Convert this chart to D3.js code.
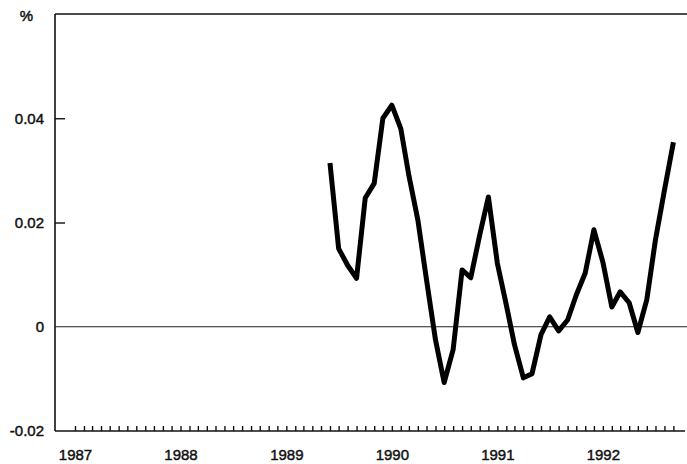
<!DOCTYPE html>
<html>
<head>
<meta charset="utf-8">
<script src="https://cdn.jsdelivr.net/npm/d3@7"></script>
<style>
  body { margin: 0; background: #fff; }
  svg text { font-family: "Liberation Sans", Arial, sans-serif; font-size: 15px; fill: #111; stroke: #111; stroke-width: 0.45px; }
</style>
</head>
<body>
<div id="chart"></div>
<script>
// monthly values, June 1989 .. Sept 1992
var startMonth = "1989-06";
var values = [
    0.0314, 0.0150, 0.0118, 0.0093, 0.0247, 0.0275, 0.0400, 0.0425,
    0.0380, 0.0290, 0.0205, 0.0090, -0.0025, -0.0107, -0.0044, 0.0109,
    0.0094, 0.0176, 0.0249, 0.0122, 0.0042, -0.0034, -0.0098, -0.0090,
    -0.0015, 0.0019, -0.0008, 0.0013, 0.0061, 0.0103, 0.0186, 0.0124,
    0.0038, 0.0067, 0.0046, -0.0011, 0.0052, 0.0167, 0.0262, 0.0354
];
var yTicks = [0.04, 0.02, 0, -0.02];
var yearLabels = ["1987", "1988", "1989", "1990", "1991", "1992"];

var parseMonth = d3.timeParse("%Y-%m");
var t0 = parseMonth(startMonth);
var data = values.map(function (v, i) {
    return { date: d3.timeMonth.offset(t0, i), value: v };
});

var width = 687, height = 464;
var margin = { top: 14, right: 0, bottom: 33, left: 55 };

var svg = d3.select("#chart").append("svg")
    .attr("width", width)
    .attr("height", height);

var x = d3.scaleTime()
    .domain([new Date(1987, 0, 1), new Date(1992, 8, 1)])
    .range([75, 673.4]);

var y = d3.scaleLinear()
    .domain([-0.02, 0.06])
    .range([height - margin.bottom, margin.top]);

// frame: top border and left axis line
svg.append("line")
    .attr("x1", margin.left).attr("x2", width)
    .attr("y1", y(0.06)).attr("y2", y(0.06))
    .attr("stroke", "#111").attr("stroke-width", 1.6);

svg.append("line")
    .attr("x1", margin.left).attr("x2", margin.left)
    .attr("y1", y(0.06)).attr("y2", y(-0.02))
    .attr("stroke", "#111").attr("stroke-width", 1.6);

// bottom axis, monthly ticks pointing up
var xAxis = d3.axisBottom(x)
    .ticks(d3.timeMonth.every(1))
    .tickSize(-5)
    .tickFormat("");
var gx = svg.append("g")
    .attr("transform", "translate(0," + y(-0.02) + ")")
    .call(xAxis);
gx.select(".domain").remove();
gx.selectAll(".tick line").attr("stroke", "#111").attr("stroke-width", 1.4);
gx.append("line")
    .attr("x1", margin.left).attr("x2", width - 2)
    .attr("y1", 0).attr("y2", 0)
    .attr("stroke", "#111").attr("stroke-width", 1.6);

// year labels
svg.selectAll(".year")
    .data(yearLabels)
    .enter()
    .append("text")
    .attr("class", "year")
    .attr("x", function (d) { return x(new Date(+d, 0, 1)) + 0.5; })
    .attr("y", 460)
    .attr("text-anchor", "middle")
    .text(function (d) { return d; });

// y axis ticks and labels
var yAxis = d3.axisRight(y)
    .tickValues(yTicks.filter(function (d) { return d !== 0 && d !== -0.02; }))
    .tickSize(10)
    .tickFormat("");
var gy = svg.append("g")
    .attr("transform", "translate(" + margin.left + ",0)")
    .call(yAxis);
gy.select(".domain").remove();
gy.selectAll(".tick line").attr("stroke", "#111").attr("stroke-width", 1.4);

svg.selectAll(".ylab")
    .data(yTicks)
    .enter()
    .append("text")
    .attr("class", "ylab")
    .attr("x", 44)
    .attr("y", function (d) { return y(d); })
    .attr("dy", "0.36em")
    .attr("text-anchor", "end")
    .text(function (d) { return d === 0 ? "0" : d3.format(".2f")(d).replace("\u2212", "-"); });

svg.append("text")
    .attr("x", 33)
    .attr("y", 21)
    .attr("text-anchor", "end")
    .text("%");

// zero line
svg.append("line")
    .attr("x1", margin.left).attr("x2", width)
    .attr("y1", y(0)).attr("y2", y(0))
    .attr("stroke", "#222").attr("stroke-width", 1);

// series
var line = d3.line()
    .x(function (d) { return x(d.date); })
    .y(function (d) { return y(d.value); });

svg.append("path")
    .datum(data)
    .attr("d", line)
    .attr("fill", "none")
    .attr("stroke", "#000")
    .attr("stroke-width", 5)
    .attr("stroke-linejoin", "round");
</script>
</body>
</html>
